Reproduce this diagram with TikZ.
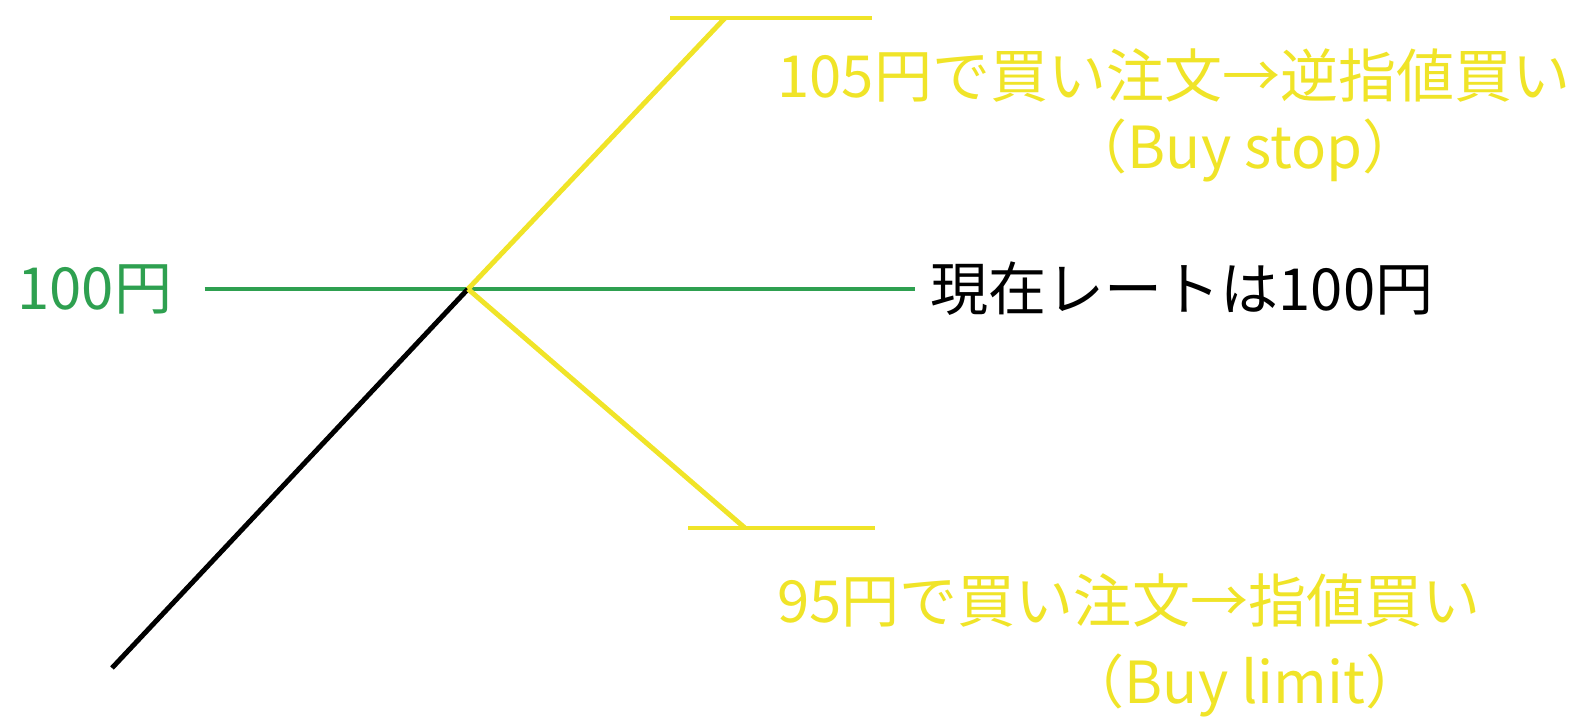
\documentclass[tikz,border=0pt]{standalone}
\usepackage{fontspec}
\usepackage{xcolor}
\usepackage{tikz}
\setmainfont{Noto Sans CJK JP}
\definecolor{ratelinegreen}{RGB}{46, 160, 80}
\definecolor{orderyellow}{RGB}{240, 228, 40}

\begin{document}
\begin{tikzpicture}[x = 0.01cm, y = -0.01cm, line width = 1.4pt,
	every node/.style = {font = \fontsize{16.5}{20}\selectfont, inner sep = 0pt},
	orderline/.style = {draw = orderyellow},
	ordertext/.style = {text = orderyellow}]
	\useasboundingbox (0,0) rectangle (1570,721);
	\coordinate (low) at (112,668);
	\coordinate (now) at (468,289);
	\coordinate (stop) at (725,18);
	\coordinate (stopl) at (670,18);
	\coordinate (stopr) at (872,18);
	\coordinate (limit) at (745,528);
	\coordinate (limitl) at (688,528);
	\coordinate (limitr) at (875,528);
	\node (p100) at (15,289) [anchor = west, text = ratelinegreen] {100円};
	\node (rate) at (928,289) [anchor = west] {現在レートは100円};
	\node (buystop) at (775,75) [anchor = west, ordertext] {105円で買い注文→逆指値買い};
	\node (buystopen) at (1245,150) [ordertext] {（Buy stop）};
	\node (buylimit) at (775,600) [anchor = west, ordertext] {95円で買い注文→指値買い};
	\node (buylimiten) at (1245,685) [ordertext] {（Buy limit）};
	\draw [ratelinegreen] ([xshift = 0.3cm]p100.east) -- ([xshift = -0.13cm]rate.west);
	\draw (low) -- (now);
	\draw [orderline] (now) -- (stop);
	\draw [orderline] (stopl) -- (stopr);
	\draw [orderline] (now) -- (limit);
	\draw [orderline] (limitl) -- (limitr);
\end{tikzpicture}
\end{document}
